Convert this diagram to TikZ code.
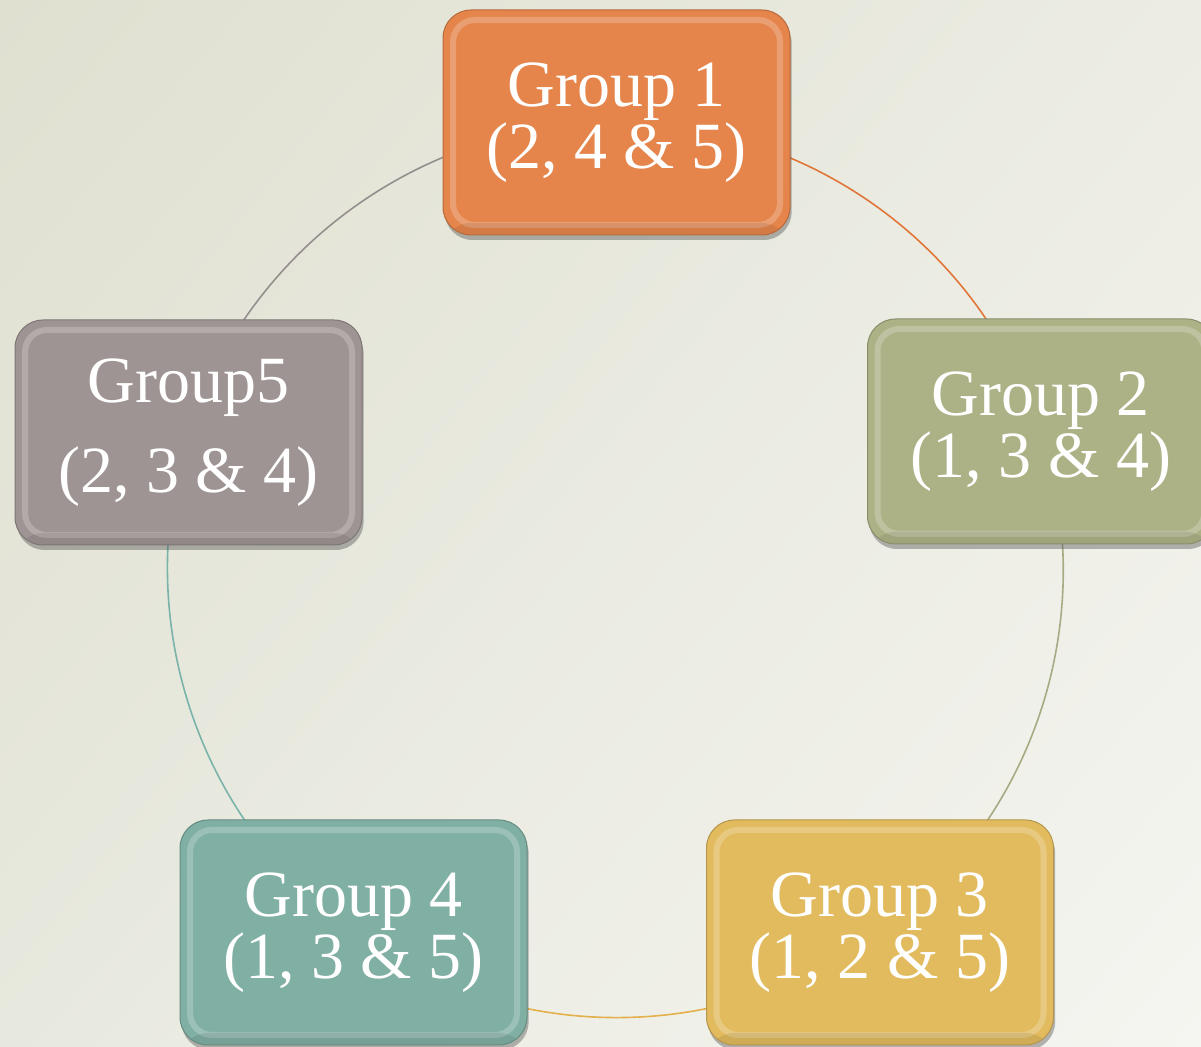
\documentclass[tikz,border=0pt]{standalone}
\usepackage{fontspec}
\setmainfont{Liberation Serif}
\usetikzlibrary{shadows,shadings}
\pgfdeclarelayer{bg}
\pgfdeclarelayer{arcs}
\pgfsetlayers{bg,arcs,main}
\definecolor{bgA}{HTML}{DFE0D0}
\definecolor{bgB}{HTML}{ECECE3}
\definecolor{bgC}{HTML}{E8E9DE}
\definecolor{bgD}{HTML}{F5F5F1}
\definecolor{cOne}{HTML}{E5854B}
\definecolor{cTwo}{HTML}{ADB286}
\definecolor{cThree}{HTML}{E2BB5F}
\definecolor{cFour}{HTML}{80AFA3}
\definecolor{cFive}{HTML}{9E9493}
\definecolor{aOne}{HTML}{E0763A}
\definecolor{aTwo}{HTML}{A7AB83}
\definecolor{aThree}{HTML}{E3B04B}
\definecolor{aFour}{HTML}{7AB3AA}
\definecolor{aFive}{HTML}{958E8D}
\tikzset{
  grp/.style={rounded corners=14pt, minimum width=173.5pt, minimum height=112.5pt,
    fill=#1, draw=#1!80!black, line width=0.5pt, text=white, align=center,
    font=\fontsize{33}{31}\selectfont,
    drop shadow={shadow xshift=0.8pt, shadow yshift=-2.5pt, opacity=0.4, fill=black!70},
    path picture={
      \draw[white, opacity=0.22, line width=3pt, rounded corners=11pt]
        ([shift={(5pt,5pt)}]path picture bounding box.south west) rectangle
        ([shift={(-5pt,-5pt)}]path picture bounding box.north east);
      \fill[black, opacity=0.08]
        (path picture bounding box.south west) rectangle
        ([yshift=6pt]path picture bounding box.south east);
    }},
  ring/.style={line width=0.8pt, bend left=36, looseness=0.94}
}
\begin{document}
\begin{tikzpicture}[x=0.5pt,y=-0.5pt]
\begin{pgfonlayer}{bg}
\shade[upper left=bgA, upper right=bgB, lower left=bgC, lower right=bgD]
  (0,0) rectangle (1201,1047);
\end{pgfonlayer}
\clip (0,0) rectangle (1201,1047);
\node[grp=cOne]   (g1) at (616.5,122.5) {Group 1\\(2, 4 \& 5)};
\node[grp=cTwo]   (g2) at (1041,431.5) {Group 2\\(1, 3 \& 4)};
\node[grp=cThree] (g3) at (880,932.5) {Group 3\\(1, 2 \& 5)};
\node[grp=cFour]  (g4) at (353.5,932.5) {Group 4\\(1, 3 \& 5)};
\node[grp=cFive]  (g5) at (188.5,432.5) {Group5\\[14pt](2, 3 \& 4)};
\begin{pgfonlayer}{arcs}
\draw[ring, aOne]   (g1.center) to (g2.center);
\draw[ring, aTwo]   (g2.center) to (g3.center);
\draw[ring, aThree] (g3.center) to (g4.center);
\draw[ring, aFour]  (g4.center) to (g5.center);
\draw[ring, aFive]  (g5.center) to (g1.center);
\end{pgfonlayer}
\end{tikzpicture}
\end{document}
